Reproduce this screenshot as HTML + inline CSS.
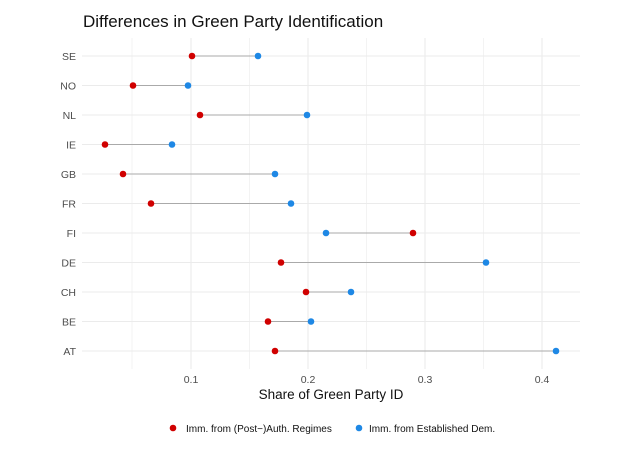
<!DOCTYPE html>
<html><head><style>body{margin:0;background:#fff}svg{display:block}</style></head><body>
<svg width="638" height="452" xmlns="http://www.w3.org/2000/svg" font-family="Liberation Sans, sans-serif">
<rect width="638" height="452" fill="#fff"/>
<text x="83" y="27" font-size="17" fill="#111">Differences in Green Party Identification</text>
<g stroke="#ebebeb" stroke-width="0.6">
<line x1="132" y1="38" x2="132" y2="369"/><line x1="249.5" y1="38" x2="249.5" y2="369"/><line x1="366.5" y1="38" x2="366.5" y2="369"/><line x1="483.5" y1="38" x2="483.5" y2="369"/>
</g>
<g stroke="#ebebeb" stroke-width="1.1">
<line x1="191" y1="38" x2="191" y2="369"/><line x1="308" y1="38" x2="308" y2="369"/><line x1="425" y1="38" x2="425" y2="369"/><line x1="542" y1="38" x2="542" y2="369"/>
<line x1="82" y1="56" x2="580" y2="56"/><line x1="82" y1="85.5" x2="580" y2="85.5"/><line x1="82" y1="115" x2="580" y2="115"/><line x1="82" y1="144.5" x2="580" y2="144.5"/><line x1="82" y1="174" x2="580" y2="174"/><line x1="82" y1="203.5" x2="580" y2="203.5"/><line x1="82" y1="233" x2="580" y2="233"/><line x1="82" y1="262.5" x2="580" y2="262.5"/><line x1="82" y1="292" x2="580" y2="292"/><line x1="82" y1="321.5" x2="580" y2="321.5"/><line x1="82" y1="351" x2="580" y2="351"/>
</g>
<g font-size="10.5" fill="#4d4d4d" text-anchor="end">
<text x="76" y="60">SE</text><text x="76" y="89.5">NO</text><text x="76" y="119">NL</text><text x="76" y="148.5">IE</text><text x="76" y="178">GB</text><text x="76" y="207.5">FR</text><text x="76" y="237">FI</text><text x="76" y="266.5">DE</text><text x="76" y="296">CH</text><text x="76" y="325.5">BE</text><text x="76" y="355">AT</text>
</g>
<g font-size="10.5" fill="#4d4d4d" text-anchor="middle">
<text x="191" y="383">0.1</text><text x="308" y="383">0.2</text><text x="425" y="383">0.3</text><text x="542" y="383">0.4</text>
</g>
<text x="331" y="399" font-size="13.5" fill="#111" text-anchor="middle">Share of Green Party ID</text>
<g stroke="#aaa" stroke-width="1">
<line x1="192" y1="56" x2="258" y2="56"/><line x1="133" y1="85.5" x2="188" y2="85.5"/><line x1="200" y1="115" x2="307" y2="115"/><line x1="105" y1="144.5" x2="172" y2="144.5"/><line x1="123" y1="174" x2="275" y2="174"/><line x1="151" y1="203.5" x2="291" y2="203.5"/><line x1="326" y1="233" x2="413" y2="233"/><line x1="281" y1="262.5" x2="486" y2="262.5"/><line x1="306" y1="292" x2="351" y2="292"/><line x1="268" y1="321.5" x2="311" y2="321.5"/><line x1="275" y1="351" x2="556" y2="351"/>
</g>
<g fill="#d00000">
<circle cx="192" cy="56" r="3.3"/><circle cx="133" cy="85.5" r="3.3"/><circle cx="200" cy="115" r="3.3"/><circle cx="105" cy="144.5" r="3.3"/><circle cx="123" cy="174" r="3.3"/><circle cx="151" cy="203.5" r="3.3"/><circle cx="413" cy="233" r="3.3"/><circle cx="281" cy="262.5" r="3.3"/><circle cx="306" cy="292" r="3.3"/><circle cx="268" cy="321.5" r="3.3"/><circle cx="275" cy="351" r="3.3"/>
</g>
<g fill="#1e88e5">
<circle cx="258" cy="56" r="3.3"/><circle cx="188" cy="85.5" r="3.3"/><circle cx="307" cy="115" r="3.3"/><circle cx="172" cy="144.5" r="3.3"/><circle cx="275" cy="174" r="3.3"/><circle cx="291" cy="203.5" r="3.3"/><circle cx="326" cy="233" r="3.3"/><circle cx="486" cy="262.5" r="3.3"/><circle cx="351" cy="292" r="3.3"/><circle cx="311" cy="321.5" r="3.3"/><circle cx="556" cy="351" r="3.3"/>
</g>
<circle cx="173" cy="428" r="3.3" fill="#d00000"/>
<text x="186" y="432" font-size="10" fill="#111">Imm. from (Post−)Auth. Regimes</text>
<circle cx="359" cy="428" r="3.3" fill="#1e88e5"/>
<text x="369" y="432" font-size="10" fill="#111">Imm. from Established Dem.</text>
</svg>
</body></html>
